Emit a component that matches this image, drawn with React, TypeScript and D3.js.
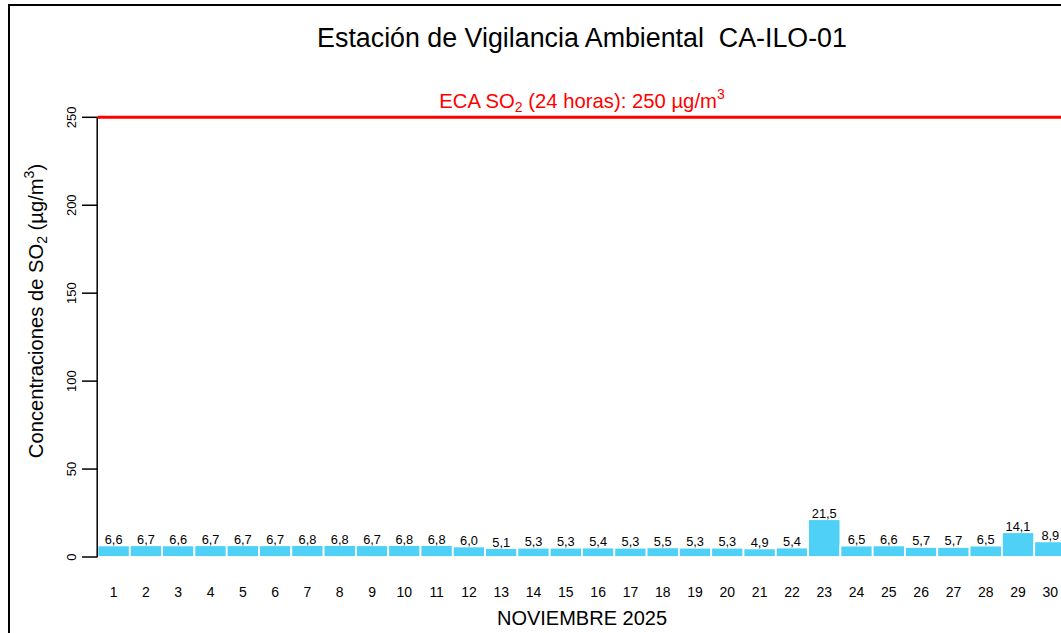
import React from "react";
import * as d3 from "d3";

const days: string[] = Array.from({ length: 30 }, (_, i) => String(i + 1));
const so2Values: number[] = [
  6.6, 6.7, 6.6, 6.7, 6.7, 6.7, 6.8, 6.8, 6.7, 6.8, 6.8, 6.0, 5.1, 5.3, 5.3,
  5.4, 5.3, 5.5, 5.3, 5.3, 4.9, 5.4, 21.5, 6.5, 6.6, 5.7, 5.7, 6.5, 14.1, 8.9,
];
const yTicks: number[] = [0, 50, 100, 150, 200, 250];
const ecaLimit = 250;

const FONT = "'Liberation Sans', Arial, Helvetica, sans-serif";

export default function App() {
  const W = 1061;
  const H = 633;
  const x0 = 97.5;
  const x1 = 1066.5;
  const x = d3.scaleBand<string>().domain(days).range([x0, x1]).padding(0);
  const y = d3.scaleLinear().domain([0, 250]).range([557, 117.3]);
  const cx = (x0 + x1) / 2;
  const fmt = (v: number) => d3.format(".1f")(v).replace(".", ",");

  return (
    <svg
      width={W}
      height={H}
      style={{ position: "absolute", left: 0, top: 0, background: "#fff" }}
      fontFamily={FONT}
    >
      <rect x={0} y={0} width={W} height={H} fill="#fff" />
      <rect x={9} y={5} width={1200} height={800} fill="none" stroke="#000" strokeWidth={2} />

      {/* title */}
      <text x={cx} y={46.5} textAnchor="middle" fontSize={26.8} fill="#000">
        {"Estación de Vigilancia Ambiental\u00a0\u00a0CA-ILO-01"}
      </text>

      {/* bars */}
      {so2Values.map((v, i) => (
        <rect
          key={i}
          x={x(days[i])!}
          y={y(v)}
          width={x.bandwidth()}
          height={y(0) - y(v)}
          fill="#4FD1F7"
          stroke="#fff"
          strokeWidth={1.8}
        />
      ))}
      {so2Values.map((v, i) => (
        <text
          key={"l" + i}
          x={x(days[i])! + x.bandwidth() / 2}
          y={y(v) - 1.5}
          textAnchor="middle"
          fontSize={12.8}
          fill="#000"
        >
          {fmt(v)}
        </text>
      ))}

      {/* y axis */}
      <line x1={x0 - 0.3} x2={x0 - 0.3} y1={y(0)} y2={y(250)} stroke="#000" strokeWidth={1.5} />
      {yTicks.map((t) => (
        <g key={t}>
          <line x1={82} x2={x0} y1={y(t)} y2={y(t)} stroke="#000" strokeWidth={1.5} />
          <text
            x={76}
            y={y(t)}
            transform={`rotate(-90, 76, ${y(t)})`}
            textAnchor="middle"
            fontSize={13}
            fill="#000"
          >
            {t}
          </text>
        </g>
      ))}

      {/* ECA line */}
      <line x1={x0} x2={W + 20} y1={y(ecaLimit)} y2={y(ecaLimit)} stroke="#FF0000" strokeWidth={3} />
      <text x={cx} y={108} textAnchor="middle" fontSize={20.3} fill="#FF0000">
        {"ECA SO"}
        <tspan fontSize={14} dy={4}>2</tspan>
        <tspan dy={-4}>{" (24 horas): 250 µg/m"}</tspan>
        <tspan fontSize={14} dy={-9}>3</tspan>
      </text>

      {/* x tick labels */}
      {days.map((d) => (
        <text
          key={"x" + d}
          x={x(d)! + x.bandwidth() / 2}
          y={597}
          textAnchor="middle"
          fontSize={14}
          fill="#000"
        >
          {d}
        </text>
      ))}
      <text x={cx} y={625} textAnchor="middle" fontSize={20} fill="#000">
        NOVIEMBRE 2025
      </text>

      {/* y title */}
      <text
        x={43}
        y={311}
        transform="rotate(-90, 43, 311)"
        textAnchor="middle"
        fontSize={20.2}
        fill="#000"
      >
        {"Concentraciones de SO"}
        <tspan fontSize={14} dy={4}>2</tspan>
        <tspan dy={-4}>{" (µg/m"}</tspan>
        <tspan fontSize={14} dy={-9}>3</tspan>
        <tspan dy={9}>)</tspan>
      </text>
    </svg>
  );
}
